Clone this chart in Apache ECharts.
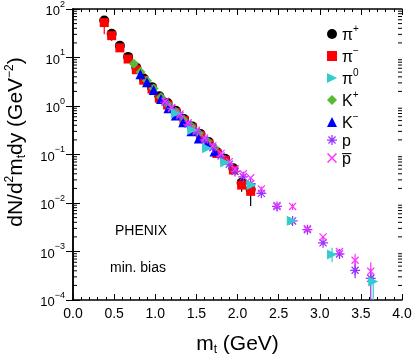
<!DOCTYPE html>
<html>
<head>
<meta charset="utf-8">
<script src="https://cdn.jsdelivr.net/npm/echarts@6/dist/echarts.min.js"></script>
<style>
  html, body { margin: 0; padding: 0; background: #fff; }
  #chart { width: 415px; height: 361px; }
</style>
</head>
<body>
<div id="chart"></div>
<script>
// values (m_t in GeV, yield in GeV^-2)
var piMt = [0.38, 0.47, 0.57, 0.67, 0.77, 0.86, 0.96, 1.05, 1.15, 1.25, 1.35, 1.45, 1.55, 1.65, 1.75, 1.85, 1.95, 2.05, 2.16];
var piPlus = [58, 31, 17.5, 10.3, 6.2, 3.7, 2.45, 1.58, 1.15, 0.8, 0.54, 0.38, 0.265, 0.18, 0.112, 0.082, 0.052, 0.026, 0.019];
var piMinus = [52.5, 28.2, 15.8, 9.3, 5.6, 3.4, 2.24, 1.45, 1.05, 0.74, 0.5, 0.355, 0.245, 0.166, 0.105, 0.076, 0.048, 0.0234, 0.0174];

var pi0Mt = [1.25, 1.45, 1.63, 1.85, 2.17, 2.66, 3.15, 3.65];
var pi0 = [0.71, 0.32, 0.135, 0.068, 0.0235, 0.0043, 0.00087, 0.00024];

var kPlusMt = [0.74, 0.82, 0.90, 0.98, 1.07, 1.16, 1.25, 1.34, 1.44, 1.53, 1.63, 1.72];
var kPlus = [7.4, 5.0, 3.3, 2.3, 1.51, 1.05, 0.76, 0.525, 0.38, 0.275, 0.19, 0.138];
var kMinusMt = [0.82, 0.90, 0.98, 1.07, 1.16, 1.25, 1.34, 1.44, 1.53, 1.63, 1.72];
var kMinus = [4.5, 3.1, 2.15, 1.4, 0.9, 0.64, 0.46, 0.3, 0.215, 0.165, 0.115];

var pMt = [1.12, 1.2, 1.3, 1.4, 1.5, 1.6, 1.7, 1.8, 1.9, 1.97, 2.07, 2.16, 2.29, 2.48, 2.67, 2.85, 3.04, 3.24, 3.43, 3.62];
var proton = [1.2, 0.89, 0.63, 0.42, 0.295, 0.2, 0.138, 0.093, 0.063, 0.0447, 0.0347, 0.0251, 0.0158, 0.0085, 0.00427, 0.00282, 0.00151, 0.00089, 0.00041, 0.00028];
var pbar = [1.26, 0.93, 0.68, 0.45, 0.316, 0.22, 0.151, 0.105, 0.071, 0.05, 0.04, 0.033, 0.0195, 0.0089, 0.0085, 0.00295, 0.002, 0.001, 0.00066, 0.00039];

// error bars [m_t, low, high]
var errPiPlus = [[2.16, 0.0087, 0.019], [2.05, 0.017, 0.026]];
var errPiMinus = [[0.38, 30, 52.5], [0.47, 22, 28.2]];
var errPi0 = [[3.15, 0.0006, 0.0012], [3.65, 0.0001, 0.00035], [2.66, 0.0035, 0.0043]];
var errP = [[3.24, 0.0007, 0.0011], [3.43, 0.00028, 0.0006], [3.62, 0.0001, 0.00045], [2.48, 0.007, 0.0098]];
var errPbar = [[3.43, 0.00045, 0.0009], [3.62, 0.00025, 0.0006], [2.67, 0.0072, 0.0098], [2.29, 0.017, 0.022]];

var yDecades = [-4, -3, -2, -1, 0, 1, 2];

var FONT = "Liberation Sans";
var asterisk = "path://M-1,-8L1,-8L1,8L-1,8Z M-8,-1L8,-1L8,1L-8,1Z M-6.36,-4.95L-4.95,-6.36L6.36,4.95L4.95,6.36Z M4.95,-6.36L6.36,-4.95L-4.95,6.36L-6.36,4.95Z";
var cross = "path://M-6.36,-4.95L-4.95,-6.36L6.36,4.95L4.95,6.36Z M4.95,-6.36L6.36,-4.95L-4.95,6.36L-6.36,4.95Z";
var rightTri = "path://M0,0L10,5L0,10Z";

function pairs(xs, ys) {
  return xs.map(function (x, i) { return [x, ys[i]]; });
}

function errSeries(data, color) {
  return {
    type: "custom",
    silent: true,
    z: 1,
    data: data,
    renderItem: function (params, api) {
      var a = api.coord([api.value(0), api.value(1)]);
      var b = api.coord([api.value(0), api.value(2)]);
      return {
        type: "line",
        shape: { x1: a[0], y1: a[1], x2: b[0], y2: b[1] },
        style: { stroke: color, lineWidth: 1.2 }
      };
    }
  };
}

// minor ticks of the log axis (2..9 in each decade), left and right frame
var minorVals = [];
yDecades.slice(0, -1).forEach(function (d) {
  for (var k = 2; k <= 9; k++) minorVals.push(k * Math.pow(10, d));
});

function sup(e) {
  return e < 0 ? "\u2212" + (-e) : String(e);
}

var chart = echarts.init(document.getElementById("chart"));

var names = {
  pip: "{b|\u03c0}{s|+}",
  pim: "{b|\u03c0}{s|\u2212}",
  pi0: "{b|\u03c0}{s|0}",
  kp: "{b|K}{s|+}",
  km: "{b|K}{s|\u2212}",
  p: "{b|p}",
  pb: "{b|p\u0305}"
};

chart.setOption({
  animation: false,
  grid: { left: 73, right: 13, top: 9, bottom: 58 },
  legend: {
    selectedMode: false,
    orient: "vertical",
    left: 327,
    top: 24,
    padding: 0,
    itemGap: 2,
    itemWidth: 10,
    itemHeight: 10,
    data: ["pip", "pim", "pi0", "kp", "km", "p", "pb"],
    formatter: function (n) { return names[n]; },
    textStyle: {
      rich: {
        b: { fontFamily: FONT, fontSize: 16, color: "#000", lineHeight: 20, verticalAlign: "bottom" },
        s: { fontFamily: FONT, fontSize: 10, color: "#000", lineHeight: 10, verticalAlign: "top" }
      }
    }
  },
  xAxis: [
    {
      type: "value", min: 0, max: 4, interval: 0.5,
      axisLine: { lineStyle: { color: "#000", width: 1.5 } },
      axisTick: { inside: true, length: 6, lineStyle: { color: "#000" } },
      minorTick: { show: true, splitNumber: 5, length: 3, lineStyle: { color: "#000" } },
      splitLine: { show: false },
      axisLabel: {
        margin: 7, color: "#000", fontFamily: FONT, fontSize: 14,
        formatter: function (v) { return v.toFixed(1); }
      },
      name: "{m|m}{t|t}{m| (GeV)}",
      nameLocation: "middle",
      nameGap: 32,
      nameTextStyle: {
        rich: {
          m: { fontFamily: FONT, fontSize: 21, color: "#000", lineHeight: 24, verticalAlign: "middle" },
          t: { fontFamily: FONT, fontSize: 12, color: "#000", lineHeight: 12, verticalAlign: "bottom" }
        }
      }
    },
    {
      type: "value", min: 0, max: 4, interval: 0.5, position: "top",
      axisLine: { lineStyle: { color: "#000", width: 1.5 } },
      axisTick: { inside: true, length: 6, lineStyle: { color: "#000" } },
      minorTick: { show: true, splitNumber: 5, length: 3, lineStyle: { color: "#000" } },
      splitLine: { show: false },
      axisLabel: { show: false }
    }
  ],
  yAxis: [
    {
      type: "log", logBase: 10, min: 1e-4, max: 1e2,
      axisLine: { show: true, lineStyle: { color: "#000", width: 1.5 } },
      axisTick: { inside: true, length: 7, lineStyle: { color: "#000" } },
      splitLine: { show: false },
      axisLabel: {
        margin: 8,
        formatter: function (v) {
          return "{b|10}{s|" + sup(Math.round(Math.log10(v))) + "}";
        },
        rich: {
          b: { fontFamily: FONT, fontSize: 13, color: "#000", lineHeight: 18, verticalAlign: "bottom" },
          s: { fontFamily: FONT, fontSize: 9, color: "#000", lineHeight: 10, verticalAlign: "top" }
        }
      }
    },
    {
      type: "log", logBase: 10, min: 1e-4, max: 1e2, position: "right",
      axisLine: { show: true, lineStyle: { color: "#000", width: 1.5 } },
      axisTick: { inside: true, length: 7, lineStyle: { color: "#000" } },
      splitLine: { show: false },
      axisLabel: { show: false }
    }
  ],
  graphic: [
    {
      type: "text", x: 16, y: 142, rotation: Math.PI / 2,
      style: {
        text: "{m|dN/d}{u|2}{m|m}{t|t}{m|dy (GeV}{u|\u22122}{m|)}",
        align: "center", verticalAlign: "middle",
        rich: {
          m: { fontFamily: FONT, fontSize: 21, fill: "#000", lineHeight: 24, verticalAlign: "middle" },
          u: { fontFamily: FONT, fontSize: 12, fill: "#000", lineHeight: 12, verticalAlign: "top" },
          t: { fontFamily: FONT, fontSize: 12, fill: "#000", lineHeight: 12, verticalAlign: "bottom" }
        }
      }
    },
    { type: "text", x: 141, y: 231, style: { text: "PHENIX", font: "14px " + FONT, fill: "#000", align: "center", verticalAlign: "middle" } },
    { type: "text", x: 138, y: 268, style: { text: "min. bias", font: "14px " + FONT, fill: "#000", align: "center", verticalAlign: "middle" } }
  ],
  series: [
    {
      type: "custom", silent: true, data: minorVals,
      renderItem: function (params, api) {
        var v = api.value(0);
        var l = api.coord([0, v]);
        var r = api.coord([4, v]);
        return {
          type: "group",
          children: [
            { type: "line", shape: { x1: l[0], y1: l[1], x2: l[0] + 4, y2: l[1] }, style: { stroke: "#000", lineWidth: 1 } },
            { type: "line", shape: { x1: r[0], y1: r[1], x2: r[0] - 4, y2: r[1] }, style: { stroke: "#000", lineWidth: 1 } }
          ]
        };
      },
      encode: { y: 0 }
    },
    errSeries(errPiPlus, "#000"),
    errSeries(errPiMinus, "#ff0000"),
    errSeries(errPi0, "#33cccc"),
    errSeries(errP, "#9933ff"),
    errSeries(errPbar, "#ff33ff"),
    { name: "pip", type: "scatter", data: pairs(piMt, piPlus), symbol: "circle", symbolSize: 10, itemStyle: { color: "#000", opacity: 1 } },
    { name: "pim", type: "scatter", data: pairs(piMt, piMinus), symbol: "rect", symbolSize: 9, itemStyle: { color: "#ff0000", opacity: 1 } },
    { name: "kp", type: "scatter", data: pairs(kPlusMt, kPlus), symbol: "diamond", symbolSize: 10, itemStyle: { color: "#55bb33", opacity: 1 } },
    { name: "km", type: "scatter", data: pairs(kMinusMt, kMinus), symbol: "triangle", symbolSize: 10, itemStyle: { color: "#0000ff", opacity: 1 } },
    { name: "p", type: "scatter", data: pairs(pMt, proton), symbol: asterisk, symbolSize: 10, itemStyle: { color: "#9933ff", opacity: 1 } },
    { name: "pb", type: "scatter", data: pairs(pMt, pbar), symbol: cross, symbolSize: 8, itemStyle: { color: "#ff33ff", opacity: 1 } },
    { name: "pi0", type: "scatter", data: pairs(pi0Mt, pi0), symbol: rightTri, symbolSize: 10, itemStyle: { color: "#33cccc", opacity: 1 } }
  ]
});
</script>
</body>
</html>
